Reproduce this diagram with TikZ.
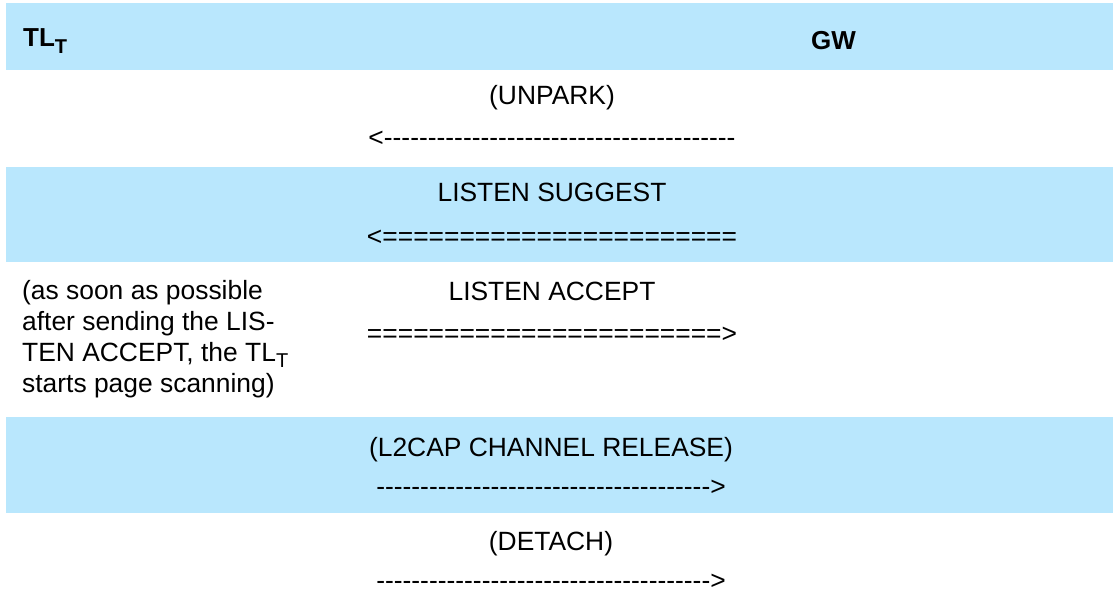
\documentclass[tikz,border=0pt]{standalone}
\usepackage{fontspec}
\setmainfont{Liberation Sans}[Ligatures=TeXOff]
\usepackage{tikz}
\usetikzlibrary{positioning}
\definecolor{band-blue}{HTML}{B9E7FD}
\tikzset{
  band/.style={fill=band-blue, draw=none},
  head-text/.style={anchor=base west, inner sep=0pt, font=\fontsize{26}{31}\selectfont\bfseries},
  msg-text/.style={anchor=base, inner sep=0pt, font=\fontsize{26.4}{31}\selectfont},
  note-text/.style={anchor=base west, inner sep=0pt, align=left, font=\fontsize{26.4}{31}\selectfont}
}
\newcommand{\subT}{\raisebox{-0.24em}{\fontsize{20}{20}\selectfont T}}

\begin{document}
\begin{tikzpicture}[x=1pt, y=-1pt]
  \useasboundingbox (0,0) rectangle (1115,593);

  % Faixas de fundo
  \fill[band] (6,3) rectangle (1113,70);
  \fill[band] (6,167) rectangle (1113,262);
  \fill[band] (6,417) rectangle (1113,513);

  % Cabeçalho
  \node[head-text] (tlt) at (23,47) {TL\subT};
  \node[head-text] (gw) at (811,50) {GW};

  % Mensagens
  \node[msg-text] (unpark) at (552,105) {(UNPARK)};
  \node[msg-text] (unpark-arrow) at (552,147) {<----------------------------------------};

  \node[msg-text] (suggest) at (552,202) {LISTEN SUGGEST};
  \node[msg-text] (suggest-arrow) at (552,246) {<=======================};

  \node[msg-text] (accept) at (552,301) {LISTEN ACCEPT};
  \node[msg-text] (accept-arrow) at (552,342) {=======================>};

  % Nota (âncora na linha de base da última linha)
  \node[note-text] (note) at (22,392) {%
    (as soon as possible\\
    after sending the LIS-\\
    TEN ACCEPT, the TL\subT\\
    starts page scanning)};

  \node[msg-text] (release) at (551,456) {(L2CAP CHANNEL RELEASE)};
  \node[msg-text] (release-arrow) at (551,495) {-------------------------------------->};

  \node[msg-text] (detach) at (551,550) {(DETACH)};
  \node[msg-text] (detach-arrow) at (551,589) {-------------------------------------->};
\end{tikzpicture}
\end{document}
